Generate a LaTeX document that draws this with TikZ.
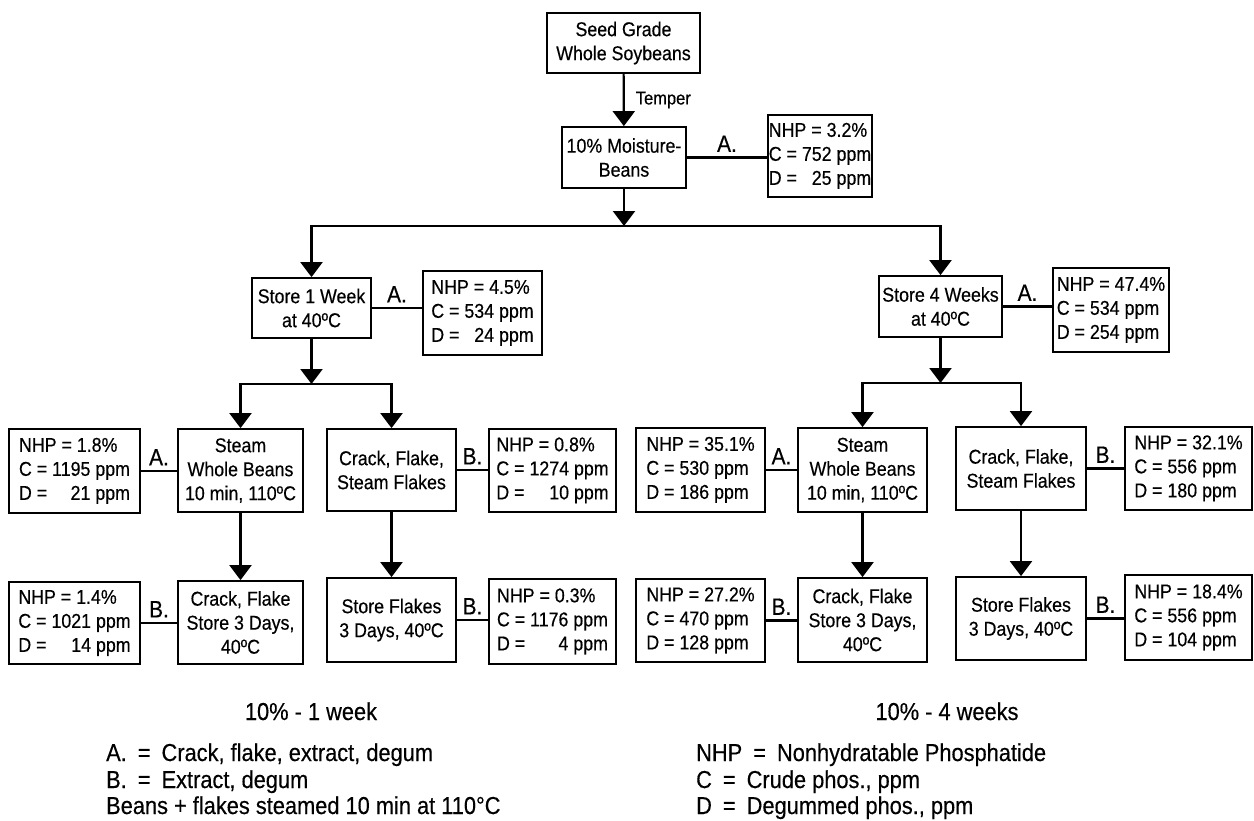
\documentclass[tikz,border=0pt]{standalone}
\usepackage{fontspec}
\setmainfont{Liberation Sans}[FakeStretch=0.89,FakeBold=0.35]
\usetikzlibrary{arrows.meta}
\newsavebox\cbx
\newcommand{\dtxt}[3]{\sbox\cbx{C = #2 ppm}\begin{tabular}{@{}l@{}}NHP = #1\\C = #2 ppm\\\makebox[\wd\cbx][l]{D =\hfill #3 ppm}\end{tabular}}
\newcommand{\qe}{\hspace{0.45em}=\hspace{0.45em}}
\begin{document}
\begin{tikzpicture}[x=1pt,y=-1pt,
  box/.style={draw, line width=1.8pt, inner sep=0pt, align=center, font=\fontsize{20}{24}\selectfont},
  wh/.style 2 args={minimum width=#1pt, minimum height=#2pt},
  arr/.style={line width=2.2pt, -{Triangle[width=22pt,length=15pt]}},
  ln/.style={line width=2.4pt},
  lab/.style={font=\fontsize{23.5}{26}\selectfont, inner sep=0pt, above=4.5pt},
  leg/.style={font=\fontsize{24.5}{28}\selectfont, inner sep=0pt, anchor=base west}]
\fill[white] (0,0) rectangle (1254,820);
\useasboundingbox (0,0) rectangle (1254,820);
% top
\node[box, wh={153}{60}] (seed) at (623.5,43) {Seed Grade\\Whole Soybeans};
\node[box, wh={124}{61}] (moist) at (624,157.5) {10\% Moisture-\\Beans};
\node[box, wh={104}{82}] (nhp0) at (820,156) {\dtxt{3.2\%}{752}{25}};
% second level
\node[box, wh={119}{60}] (store1) at (311.5,308) {Store 1 Week\\at 40ºC};
\node[box, wh={119}{84}] (nhp1) at (482.5,313) {\dtxt{4.5\%}{534}{24}};
\node[box, wh={123}{61}] (store4) at (940.5,306.5) {Store 4 Weeks\\at 40ºC};
\node[box, wh={116}{84}] (nhp4) at (1111,310) {\dtxt{47.4\%}{534}{254}};
% row 1 left
\node[box, wh={131}{84}] (d1) at (74.5,471) {\dtxt{1.8\%}{1195}{21}};
\node[box, wh={125}{83}] (steamL) at (240.5,470.5) {Steam\\Whole Beans\\10 min, 110ºC};
\node[box, wh={129}{82}] (crackL) at (391.5,470) {Crack, Flake,\\Steam Flakes};
\node[box, wh={127}{83}] (d2) at (552.5,470.5) {\dtxt{0.8\%}{1274}{10}};
% row 1 right
\node[box, wh={129}{84}] (d5) at (700.5,470) {\dtxt{35.1\%}{530}{186}};
\node[box, wh={129}{84}] (steamR) at (862.5,470) {Steam\\Whole Beans\\10 min, 110ºC};
\node[box, wh={130}{83}] (crackR) at (1021,468.5) {Crack, Flake,\\Steam Flakes};
\node[box, wh={127}{83}] (d6) at (1188.5,468.5) {\dtxt{32.1\%}{556}{180}};
% row 2 left
\node[box, wh={131}{82}] (d3) at (74.5,623) {\dtxt{1.4\%}{1021}{14}};
\node[box, wh={125}{83}] (cfsL) at (240.5,622.5) {Crack, Flake\\Store 3 Days,\\40ºC};
\node[box, wh={129}{84}] (sfL) at (391.5,620) {Store Flakes\\3 Days, 40ºC};
\node[box, wh={127}{85}] (d4) at (552.5,621.5) {\dtxt{0.3\%}{1176}{4}};
% row 2 right
\node[box, wh={129}{83}] (d7) at (700.5,620.5) {\dtxt{27.2\%}{470}{128}};
\node[box, wh={129}{84}] (cfsR) at (862.5,620) {Crack, Flake\\Store 3 Days,\\40ºC};
\node[box, wh={130}{83}] (sfR) at (1021,618.5) {Store Flakes\\3 Days, 40ºC};
\node[box, wh={127}{85}] (d8) at (1188.5,617.5) {\dtxt{18.4\%}{556}{104}};
% junctions
\coordinate (jt) at (624,226);
\coordinate (f1) at (311.5,384);
\coordinate (f2) at (940.5,383);
% connectors
\draw[arr] (seed) -- (moist) node[midway, right=11pt, font=\fontsize{18.5}{20}\selectfont, inner sep=0pt] (tp) {Temper};
\draw[ln] (moist.east) -- (moist.east -| nhp0.west) node[lab, midway] (a0) {A.};
\draw[arr] (moist) -- (jt);
\draw[arr] (jt) -| (store1);
\draw[arr] (jt) -| (store4);
\draw[ln] (store1.east) -- (store1.east -| nhp1.west) node[lab, midway] (a1) {A.};
\draw[ln] (store4.east) -- (store4.east -| nhp4.west) node[lab, midway] (a4) {A.};
\draw[arr] (store1) -- (f1);
\draw[arr] (f1) -| (steamL);
\draw[arr] (f1) -| (crackL);
\draw[arr] (store4) -- (f2);
\draw[arr] (f2) -| (steamR);
\draw[arr] (f2) -| (crackR);
\draw[arr] (steamL) -- (cfsL);
\draw[arr] (crackL) -- (sfL);
\draw[arr] (steamR) -- (cfsR);
\draw[arr] (crackR) -- (sfR);
\draw[ln] (d1.east) -- (d1.east -| steamL.west) node[lab, midway] {A.};
\draw[ln] (crackL.east) -- (crackL.east -| d2.west) node[lab, midway] {B.};
\draw[ln] (d3.east) -- (d3.east -| cfsL.west) node[lab, midway] {B.};
\draw[ln] (sfL.east) -- (sfL.east -| d4.west) node[lab, midway] {B.};
\draw[ln] (d5.east) -- (d5.east -| steamR.west) node[lab, midway] {A.};
\draw[ln] (crackR.east) -- (crackR.east -| d6.west) node[lab, midway] {B.};
\draw[ln] (d7.east) -- (d7.east -| cfsR.west) node[lab, midway] {B.};
\draw[ln] (sfR.east) -- (sfR.east -| d8.west) node[lab, midway] {B.};
% legend
\node[leg, anchor=base] (t1) at (311,720) {10\% - 1 week};
\node[leg, anchor=base] (t2) at (947,720) {10\% - 4 weeks};
\node[leg] (l1) at (106,761) {A.\qe Crack, flake, extract, degum};
\node[leg] (l2) at (106,788) {B.\qe Extract, degum};
\node[leg] (l3) at (106,814) {Beans + flakes steamed 10 min at 110°C};
\node[leg] (r1) at (696,761) {NHP\qe Nonhydratable Phosphatide};
\node[leg] (r2) at (696,788) {C\qe Crude phos., ppm};
\node[leg] (r3) at (696,814) {D\qe Degummed phos., ppm};
\end{tikzpicture}
\end{document}
